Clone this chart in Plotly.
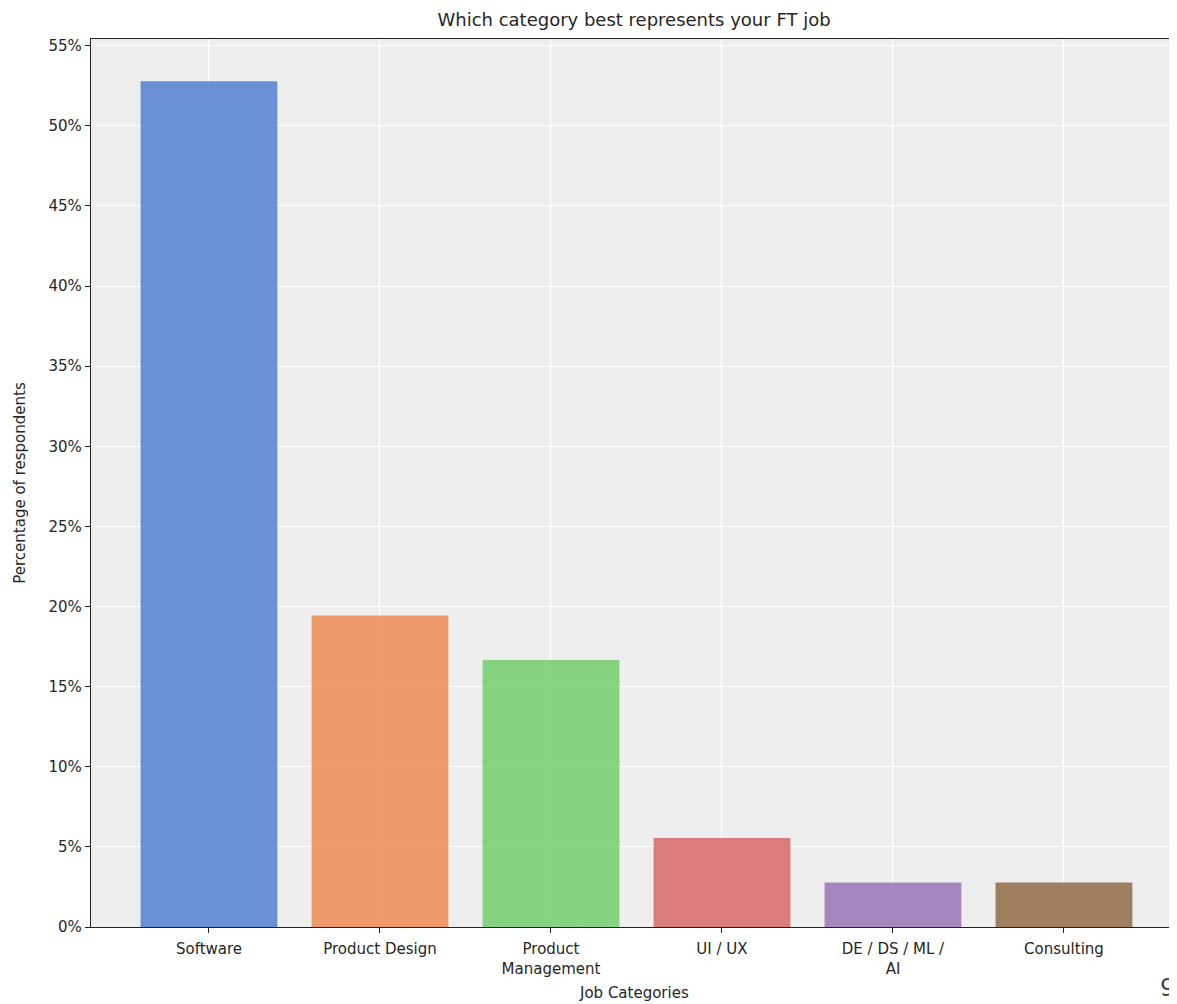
import plotly.graph_objects as go

categories = ["Software", "Product Design", "Product<br>Management", "UI / UX", "DE / DS / ML /<br>AI", "Consulting"]
percentages = [52.78, 19.44, 16.67, 5.56, 2.78, 2.78]
colors = ["#4878d0", "#ee854a", "#6acc64", "#d65f5f", "#956cb4", "#8c613c"]
y_ticks = [0, 5, 10, 15, 20, 25, 30, 35, 40, 45, 50, 55]

font_family = "DejaVu Sans"
text_color = "#262626"

# page body has an 8px margin; size the figure so it fills the 1177x1004 window
W, H = 1169, 996
M_L, M_T, M_B = 83, 31, 77
plot_h = H - M_T - M_B
plot_bottom = H - M_B

fig = go.Figure()
fig.add_trace(go.Bar(
    x=list(range(len(categories))),
    y=percentages,
    width=0.8,
    marker=dict(color=colors, opacity=0.8, line=dict(width=0)),
    hoverinfo="skip",
))

fig.update_layout(
    width=W, height=H,
    margin=dict(l=M_L, r=0, t=M_T, b=M_B, autoexpand=False),
    paper_bgcolor="white",
    plot_bgcolor="#eeeeee",
    showlegend=False,
    font=dict(family=font_family, size=15, color=text_color),
    title=dict(text="Which category best represents your FT job",
               x=0.5, xref="paper", xanchor="center",
               y=1 - 12 / H, yref="container", yanchor="middle",
               font=dict(size=18, color=text_color)),
)

fig.update_xaxes(
    automargin=False,
    range=[-0.69, 5.661],
    tickmode="array",
    tickvals=list(range(len(categories))),
    ticktext=categories,
    ticks="outside", ticklen=5, tickwidth=1.2, tickcolor="#222",
    ticklabelstandoff=3,
    showline=True, linecolor="#222", linewidth=1.3, mirror=True,
    showgrid=True, gridcolor="white", gridwidth=1,
    zeroline=False,
    tickfont=dict(size=15, color=text_color),
)
fig.update_yaxes(
    automargin=False,
    range=[0, 55.42],
    tickmode="array",
    tickvals=y_ticks,
    ticktext=[f"{v}%" for v in y_ticks],
    ticks="outside", ticklen=5, tickwidth=1.2, tickcolor="#222",
    showline=True, linecolor="#222", linewidth=1.3,
    showgrid=True, gridcolor="white", gridwidth=1,
    zeroline=False,
    tickfont=dict(size=15, color=text_color),
    title=dict(text="Percentage of respondents", font=dict(size=15, color=text_color), standoff=19),
)

# x-axis title
fig.add_annotation(
    text="Job Categories", xref="paper", yref="paper",
    x=0.5, y=-(985 - plot_bottom) / plot_h,
    xanchor="center", yanchor="middle",
    showarrow=False, font=dict(size=15, color=text_color),
)

fig.add_annotation(
    text="96", xref="paper", yref="paper",
    x=(1150 - M_L) / (W - M_L), y=-(980 - plot_bottom) / plot_h,
    xanchor="left", yanchor="middle",
    showarrow=False, font=dict(size=24, color="#444"),
)

fig.write_html("out.html")
